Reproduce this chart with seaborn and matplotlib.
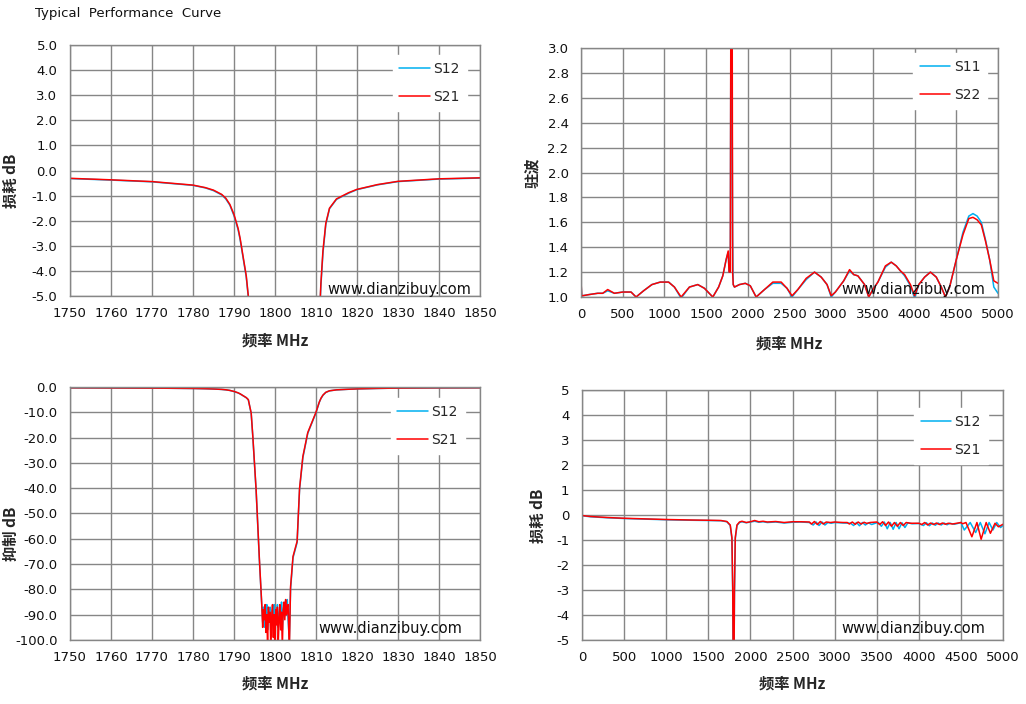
import matplotlib
matplotlib.use('Agg')
import matplotlib.pyplot as plt
import seaborn as sns
from matplotlib.ticker import FormatStrFormatter

# ---- narrow band data (1750-1850 MHz), used by both left panels ----
freq_nb = [1750, 1760, 1770, 1780, 1783, 1785, 1787, 1788, 1789, 1790, 1791, 1791.5, 1792,
           1792.5, 1793, 1793.5, 1794.2, 1794.6, 1795.4, 1796.2, 1796.8,
           1797.0, 1797.2, 1797.4, 1797.6, 1797.8, 1798.0, 1798.2, 1798.4, 1798.6, 1798.8,
           1799.0, 1799.2, 1799.4, 1799.6, 1799.8, 1800.0, 1800.2, 1800.4, 1800.6, 1800.8,
           1801.0, 1801.2, 1801.4, 1801.6, 1801.8, 1802.0, 1802.2, 1802.4, 1802.6, 1802.8,
           1803.0, 1803.2,
           1803.5, 1803.8, 1804.4, 1805.4, 1806.0, 1806.8, 1808.0, 1810.0, 1810.8, 1811.2,
           1811.7, 1812.4, 1813.3, 1815.0, 1818.0, 1820, 1825, 1830, 1840, 1850]

s21_nb = [-0.31, -0.37, -0.44, -0.58, -0.68, -0.78, -0.95, -1.1, -1.35, -1.75, -2.3, -2.7, -3.2,
          -3.7, -4.2, -5.0, -10.3, -19.5, -40.5, -68.0, -86.6,
          -95, -88, -92, -86, -97, -90, -102, -87, -93, -89,
          -104, -91, -86, -99, -90, -105, -88, -94, -87, -101,
          -92, -86, -96, -89, -103, -88, -85, -92, -84, -90,
          -87, -86,
          -105, -79, -67, -61, -40, -27.5, -18, -10, -6, -4.5,
          -3.2, -2.1, -1.5, -1.13, -0.88, -0.75, -0.56, -0.43, -0.33, -0.29]

s12_nb = [-0.32, -0.38, -0.45, -0.59, -0.69, -0.8, -0.97, -1.13, -1.38, -1.8, -2.35, -2.75, -3.25,
          -3.75, -4.25, -5.05, -10.5, -19.8, -41.0, -68.5, -87.0,
          -93, -87, -95, -88, -90, -86, -96, -89, -92, -87,
          -98, -90, -88, -94, -86, -97, -89, -91, -86, -95,
          -90, -87, -93, -85, -96, -89, -86, -88, -85, -88,
          -84, -92,
          -100, -80, -67.5, -61.5, -40.5, -28, -18.3, -10.2, -6.1, -4.6,
          -3.3, -2.15, -1.52, -1.15, -0.9, -0.76, -0.57, -0.44, -0.34, -0.3]

# ---- VSWR, wide band 0-5000 MHz ----
freq_vswr = [0, 8, 15, 100, 200, 260, 320, 400, 500, 600, 660, 750, 850, 950, 1050, 1120,
             1200, 1300, 1400, 1480, 1580, 1650, 1700, 1740, 1765, 1775, 1790, 1797, 1800,
             1805, 1812, 1818, 1825, 1840, 1900, 1970, 2030, 2100, 2200, 2300, 2400, 2470,
             2530, 2600, 2700, 2800, 2880, 2950, 3000, 3050, 3150, 3220, 3270, 3320, 3400,
             3450, 3500, 3560, 3650, 3720, 3780, 3830, 3880, 3950, 4000, 4050, 4120, 4190,
             4260, 4320, 4370, 4420, 4500, 4580, 4650, 4700, 4750, 4800, 4850, 4900, 4950, 5000]

s22_vswr = [1.13, 1.01, 1.01, 1.02, 1.03, 1.03, 1.06, 1.03, 1.04, 1.04, 1.0, 1.05, 1.1, 1.12,
            1.12, 1.08, 1.0, 1.08, 1.1, 1.07, 1.0, 1.08, 1.17, 1.3, 1.37, 1.2, 1.2, 3.5, 6.0,
            6.0, 3.5, 1.2, 1.1, 1.08, 1.1, 1.11, 1.09, 1.0, 1.06, 1.12, 1.12, 1.07,
            1.01, 1.06, 1.15, 1.2, 1.16, 1.1, 1.01, 1.04, 1.13, 1.22, 1.18, 1.17, 1.1,
            1.0, 1.06, 1.12, 1.25, 1.28, 1.25, 1.21, 1.18, 1.1, 1.01, 1.1, 1.16, 1.2,
            1.16, 1.08, 1.0, 1.08, 1.3, 1.5, 1.63, 1.64, 1.62, 1.58, 1.45, 1.3, 1.13, 1.11]

s11_vswr = [1.12, 1.01, 1.01, 1.02, 1.03, 1.03, 1.05, 1.03, 1.04, 1.04, 1.0, 1.05, 1.1, 1.12,
            1.12, 1.08, 0.99, 1.08, 1.1, 1.07, 1.0, 1.08, 1.17, 1.3, 1.36, 1.2, 1.2, 3.2, 5.0,
            5.0, 2.5, 1.48, 1.1, 1.08, 1.1, 1.11, 1.09, 1.0, 1.06, 1.11, 1.11, 1.07,
            1.0, 1.06, 1.14, 1.2, 1.16, 1.1, 1.0, 1.04, 1.13, 1.21, 1.18, 1.17, 1.1,
            1.0, 1.06, 1.12, 1.24, 1.28, 1.25, 1.21, 1.17, 1.09, 0.99, 1.1, 1.16, 1.2,
            1.16, 1.08, 1.0, 1.08, 1.3, 1.52, 1.65, 1.67, 1.65, 1.6, 1.46, 1.3, 1.08, 1.03]

# ---- insertion loss, wide band 0-5000 MHz ----
freq_wb21 = [0, 100, 300, 500, 800, 1000, 1300, 1500, 1650, 1720, 1760, 1780, 1790, 1795, 1805,
             1810, 1820, 1840, 1870, 1900, 1950, 2000, 2050, 2100, 2150, 2200, 2300, 2400,
             2500, 2600, 2700, 2725, 2760, 2795, 2830, 2865, 2900, 2950, 3000, 3100, 3150,
             3175, 3210, 3245, 3280, 3315, 3350, 3385, 3420, 3500, 3535, 3570, 3605, 3640,
             3675, 3710, 3745, 3780, 3815, 3850, 3900, 4000, 4035, 4070, 4105, 4140, 4175,
             4210, 4245, 4280, 4315, 4350, 4400, 4450, 4500, 4520, 4560, 4630, 4690, 4740,
             4800, 4850, 4905, 4945, 5000]

s21_wb = [-0.02, -0.06, -0.1, -0.13, -0.16, -0.18, -0.2, -0.21, -0.22, -0.26, -0.4, -0.9, -3.0,
          -6.0, -6.0, -3.0, -0.9, -0.4, -0.28, -0.25, -0.3, -0.27, -0.22, -0.27, -0.25, -0.28,
          -0.26, -0.3, -0.27, -0.27, -0.28, -0.36, -0.26, -0.38, -0.26, -0.36, -0.28, -0.3,
          -0.28, -0.3, -0.3, -0.36, -0.28, -0.37, -0.28, -0.36, -0.29, -0.34, -0.3, -0.28,
          -0.38, -0.27, -0.42, -0.28, -0.45, -0.3, -0.45, -0.3, -0.42, -0.3, -0.33, -0.33,
          -0.38, -0.3, -0.4, -0.32, -0.38, -0.32, -0.38, -0.32, -0.37, -0.33, -0.36, -0.33,
          -0.3, -0.35, -0.3, -0.87, -0.3, -0.97, -0.3, -0.73, -0.33, -0.47, -0.37]

freq_wb12 = [0, 100, 300, 500, 800, 1000, 1300, 1500, 1650, 1720, 1760, 1780, 1790, 1795, 1805,
             1810, 1820, 1840, 1870, 1900, 1950, 2000, 2050, 2100, 2150, 2200, 2300, 2400,
             2500, 2600, 2700, 2745, 2780, 2815, 2850, 2885, 2920, 2960, 3000, 3100, 3190,
             3225, 3260, 3295, 3330, 3365, 3400, 3440, 3500, 3520, 3555, 3590, 3625, 3660,
             3695, 3730, 3765, 3800, 3835, 3870, 3920, 4000, 4055, 4090, 4125, 4160, 4195,
             4230, 4265, 4300, 4335, 4370, 4420, 4460, 4500, 4540, 4610, 4675, 4730, 4785,
             4835, 4880, 4925, 4970, 5000]

s12_wb = [-0.03, -0.07, -0.11, -0.14, -0.17, -0.19, -0.21, -0.22, -0.23, -0.27, -0.42, -0.95,
          -3.2, -6.0, -6.0, -3.2, -0.95, -0.42, -0.3, -0.27, -0.31, -0.28, -0.25, -0.29, -0.27,
          -0.3, -0.28, -0.32, -0.29, -0.28, -0.3, -0.4, -0.28, -0.42, -0.28, -0.4, -0.3, -0.33,
          -0.3, -0.32, -0.33, -0.42, -0.3, -0.43, -0.3, -0.4, -0.31, -0.38, -0.31, -0.3,
          -0.45, -0.28, -0.55, -0.3, -0.57, -0.3, -0.55, -0.31, -0.5, -0.31, -0.35, -0.34,
          -0.42, -0.31, -0.43, -0.32, -0.41, -0.32, -0.4, -0.32, -0.39, -0.33, -0.37, -0.34,
          -0.3, -0.6, -0.3, -0.7, -0.3, -0.75, -0.3, -0.6, -0.3, -0.5, -0.42]

CYAN = '#00B0F0'
RED = '#FF0000'
GRID = '#868686'

sns.set_style('white')
plt.rcParams['font.family'] = ['DejaVu Sans', 'Noto Sans CJK SC']
CJK = ['Noto Sans CJK SC', 'DejaVu Sans']

fig = plt.figure(figsize=(10.26, 7.04), dpi=100)
ax_tl = fig.add_axes([0.0682, 0.5795, 0.3996, 0.3565])
ax_tr = fig.add_axes([0.5663, 0.5781, 0.4064, 0.3537])
ax_bl = fig.add_axes([0.0682, 0.0909, 0.3996, 0.3594])
ax_br = fig.add_axes([0.5673, 0.0909, 0.4103, 0.3551])


def draw(ax, x1, y1, x2, y2, names):
    sns.lineplot(x=x1, y=y1, ax=ax, color=CYAN, lw=1.1, label=names[0],
                 estimator=None, sort=False)
    sns.lineplot(x=x2, y=y2, ax=ax, color=RED, lw=1.1, label=names[1],
                 estimator=None, sort=False)


def style(ax, xlim, xticks, ylim, yticks, yfmt, ylabel, ylab_pos, xlab_y, leg_anchor, mark_pos):
    ax.set_xlim(*xlim)
    ax.set_ylim(*ylim)
    ax.set_xticks(xticks)
    ax.set_yticks(yticks)
    ax.yaxis.set_major_formatter(FormatStrFormatter(yfmt))
    ax.grid(True, color=GRID, lw=1.0)
    for sp in ax.spines.values():
        sp.set_visible(True)
        sp.set_color(GRID)
        sp.set_linewidth(1.0)
    ax.tick_params(axis='both', direction='out', length=3, width=1.0, color=GRID,
                   labelsize=9.5, labelcolor='#111111')
    ax.tick_params(axis='y', pad=6)
    ax.tick_params(axis='x', pad=5)
    ax.set_ylabel(ylabel, family=CJK, fontsize=11, fontweight='bold')
    ax.set_xlabel('频率 MHz', family=CJK, fontsize=11, fontweight='bold')
    ax.yaxis.set_label_coords(*ylab_pos)
    ax.xaxis.set_label_coords(0.5, xlab_y)
    ax.legend(loc='upper right', bbox_to_anchor=leg_anchor, frameon=True, fancybox=False,
              edgecolor='white', facecolor='white', framealpha=1, fontsize=10,
              labelspacing=1.0, handlelength=2.2, handletextpad=0.25, borderpad=0.5,
              borderaxespad=0)
    ax.text(mark_pos[0], mark_pos[1], 'www.dianzibuy.com', transform=ax.transAxes,
            ha='right', va='center', fontsize=10.5, color='#111111')


draw(ax_tl, freq_nb, s12_nb, freq_nb, s21_nb, ['S12', 'S21'])
style(ax_tl, (1750, 1850), list(range(1750, 1851, 10)), (-5, 5), list(range(-5, 6)), '%.1f',
      '损耗 dB', (-0.124, 0.46), -0.147, (0.968, 0.96), (0.98, 0.025))

draw(ax_tr, freq_vswr, s11_vswr, freq_vswr, s22_vswr, ['S11', 'S22'])
style(ax_tr, (0, 5000), list(range(0, 5001, 500)), (1.0, 3.0),
      [1.0, 1.2, 1.4, 1.6, 1.8, 2.0, 2.2, 2.4, 2.6, 2.8, 3.0], '%.1f',
      '驻波', (-0.098, 0.5), -0.153, (0.974, 0.98), (0.969, 0.03))

draw(ax_bl, freq_nb, s12_nb, freq_nb, s21_nb, ['S12', 'S21'])
style(ax_bl, (1750, 1850), list(range(1750, 1851, 10)), (-100, 0), list(range(-100, 1, 10)),
      '%.1f', '抑制 dB', (-0.124, 0.42), -0.142, (0.963, 0.957), (0.956, 0.047))

draw(ax_br, freq_wb12, s12_wb, freq_wb21, s21_wb, ['S12', 'S21'])
style(ax_br, (0, 5000), list(range(0, 5001, 500)), (-5, 5), list(range(-5, 6)), '%d',
      '损耗 dB', (-0.086, 0.496), -0.144, (0.964, 0.928), (0.957, 0.048))

fig.text(35 / 1026, 1 - 14 / 704, 'Typical  Performance  Curve', fontsize=9.5,
         va='center', ha='left', color='#111111')

fig.savefig('out.png', dpi=100)
